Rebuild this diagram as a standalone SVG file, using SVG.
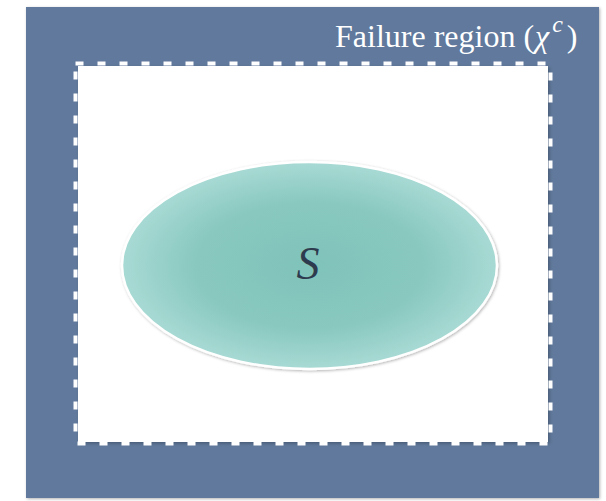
<svg xmlns="http://www.w3.org/2000/svg" width="606" height="501" viewBox="0 0 606 501">
  <defs>
    <radialGradient id="gEll" cx="0.5" cy="0.5" r="0.5">
      <stop offset="0" stop-color="#80c3ba"/>
      <stop offset="0.6" stop-color="#88c8bf"/>
      <stop offset="1" stop-color="#a8dad4"/>
    </radialGradient>
    <filter id="sh" x="-5%" y="-5%" width="110%" height="110%">
      <feDropShadow dx="1" dy="1" stdDeviation="1.5" flood-color="#000" flood-opacity="0.3"/>
    </filter>
    <filter id="ish" x="-5%" y="-5%" width="110%" height="110%">
      <feDropShadow dx="1.5" dy="1.5" stdDeviation="1.5" flood-color="#000" flood-opacity="0.25"/>
    </filter>
  </defs>
  <style>
    .lbl { font-family: "Liberation Serif", "Times New Roman", serif; fill: #ffffff; }
    .math { font-family: "Liberation Serif", "DejaVu Serif", serif; font-style: italic; }
  </style>
  <g id="failure-region">
    <rect x="26" y="7" width="573" height="491" fill="#61799c" filter="url(#sh)"/>
    <text class="lbl" x="335" y="47" font-size="32">Failure region (<tspan class="math" dx="1">χ</tspan><tspan class="math" font-size="24" dx="3" dy="-15">c</tspan><tspan dx="4" dy="15">)</tspan></text>
  </g>
  <g id="safe-region">
    <rect x="78" y="66" width="470" height="376" fill="#ffffff" filter="url(#ish)"/>
    <rect x="75.5" y="63.5" width="475" height="380" fill="none" stroke="#ffffff" stroke-width="4" stroke-dasharray="8 14"/>
  </g>
  <g id="S">
    <ellipse cx="309.5" cy="265.5" rx="187.5" ry="103.5" fill="url(#gEll)" stroke="#ffffff" stroke-width="2.5" filter="url(#sh)"/>
    <text class="math" x="308" y="279" font-size="46" fill="#2e3b4e" text-anchor="middle">S</text>
  </g>
  <g id="connectors"/>
</svg>
